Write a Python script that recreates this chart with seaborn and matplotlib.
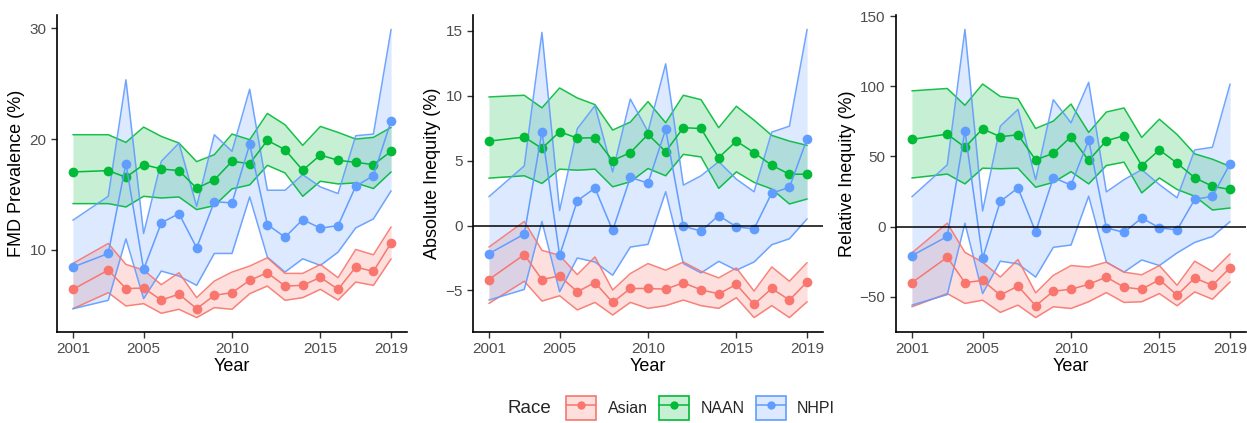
import seaborn as sns
import numpy as np
import pandas as pd
import matplotlib
matplotlib.use("Agg")
from matplotlib import pyplot as plt
from matplotlib.patches import Patch
from matplotlib.lines import Line2D

years = [2001, 2003, 2004, 2005, 2006, 2007, 2008, 2009, 2010,
         2011, 2012, 2013, 2014, 2015, 2016, 2017, 2018, 2019]
races = ["Asian", "NAAN", "NHPI"]
colors = {"Asian": "#F8766D", "NAAN": "#00BA38", "NHPI": "#619CFF"}

# FMD prevalence (%)
prev_asian = [6.43, 8.17, 6.5, 6.55, 5.46, 6.0, 4.68, 5.89, 6.13, 7.24, 7.93, 6.73, 6.79, 7.51, 6.43, 8.44, 8.05, 10.63]
prev_asian_hi = [8.77, 10.57, 8.68, 8.17, 6.85, 7.93, 5.68, 7.18, 7.99, 8.53, 9.28, 7.87, 7.87, 8.68, 7.48, 10.03, 9.55, 12.07]
prev_asian_lo = [4.68, 6.13, 4.93, 5.14, 4.27, 4.63, 3.88, 4.78, 4.63, 6.04, 6.73, 5.44, 5.68, 6.43, 5.46, 7.09, 6.79, 9.19]
prev_naan = [17.03, 17.15, 16.55, 17.69, 17.3, 17.15, 15.56, 16.31, 17.99, 17.78, 19.88, 19.04, 17.18, 18.56, 18.08, 17.9, 17.69, 18.89]
prev_naan_hi = [20.39, 20.39, 19.7, 21.08, 20.24, 19.64, 17.96, 18.59, 20.45, 19.94, 22.31, 21.29, 19.43, 21.14, 20.6, 20.0, 20.15, 21.05]
prev_naan_lo = [14.17, 14.17, 13.87, 14.83, 14.68, 14.77, 13.63, 13.99, 15.5, 15.86, 17.63, 16.94, 14.83, 16.19, 15.95, 16.04, 15.53, 17.03]
prev_nhpi = [8.44, 9.67, 17.78, 8.23, 12.43, 13.27, 10.18, 14.35, 14.23, 19.52, 12.28, 11.14, 12.73, 11.95, 12.19, 15.74, 16.7, 21.65]
prev_nhpi_hi = [12.67, 14.83, 25.35, 11.47, 17.99, 19.64, 13.93, 20.39, 18.89, 24.5, 15.38, 15.38, 16.79, 15.68, 15.08, 20.3, 20.45, 29.9]
prev_nhpi_lo = [4.68, 5.44, 10.99, 5.59, 8.08, 7.63, 6.79, 9.67, 9.67, 14.77, 9.34, 7.99, 9.19, 8.59, 9.79, 11.98, 12.79, 15.32]

# Absolute inequity (%)
abs_asian = [-4.16, -2.24, -4.16, -3.88, -5.1, -4.39, -5.92, -4.85, -4.85, -4.9, -4.41, -4.95, -5.26, -4.54, -6.07, -4.85, -5.74, -4.34]
abs_asian_hi = [-1.66, 0.31, -1.91, -2.3, -3.78, -2.42, -4.97, -3.7, -2.93, -3.44, -2.81, -3.52, -4.03, -3.27, -5.05, -3.19, -4.29, -2.86]
abs_asian_lo = [-6.0, -4.29, -5.82, -5.41, -6.5, -5.92, -6.89, -5.92, -6.38, -6.17, -5.74, -6.17, -6.38, -5.56, -7.09, -6.17, -7.09, -5.87]
abs_naan = [6.5, 6.81, 5.94, 7.22, 6.73, 6.76, 5.0, 5.61, 7.02, 5.69, 7.53, 7.47, 5.23, 6.5, 5.61, 4.64, 3.95, 3.95]
abs_naan_hi = [9.9, 10.03, 9.06, 10.59, 9.82, 9.31, 7.35, 7.96, 9.54, 7.91, 10.03, 9.69, 7.53, 9.18, 8.11, 6.94, 6.5, 6.17]
abs_naan_lo = [3.65, 3.83, 3.24, 4.34, 4.26, 4.34, 2.98, 3.37, 4.39, 3.83, 5.48, 5.28, 2.86, 4.13, 3.32, 2.81, 1.66, 2.04]
abs_nhpi = [-2.17, -0.66, 7.22, -2.3, 1.91, 2.88, -0.38, 3.7, 3.27, 7.4, -0.05, -0.43, 0.77, -0.1, -0.26, 2.5, 2.93, 6.68]
abs_nhpi_hi = [2.22, 4.59, 14.87, 1.15, 7.45, 9.23, 4.13, 9.74, 7.22, 12.45, 3.11, 3.83, 4.92, 3.57, 2.6, 7.19, 7.65, 15.1]
abs_nhpi_lo = [-5.74, -4.92, 0.31, -5.1, -2.5, -2.81, -3.83, -1.66, -1.45, 2.6, -2.93, -3.65, -2.76, -3.44, -2.81, -1.48, -1.02, 0.51]

# Relative inequity (%)
rel_asian = [-40, -21.9, -40, -38.4, -48.9, -42.4, -56.5, -46.1, -44.7, -41.2, -36, -43.3, -44.7, -37.9, -48.9, -36.7, -41.9, -29.4]
rel_asian_hi = [-18.8, 2.4, -18.4, -25.4, -36, -23.5, -47.3, -34.8, -27.8, -28.9, -25.4, -32.5, -34.4, -27.8, -41.9, -24.7, -32, -19.5]
rel_asian_lo = [-57.2, -47.8, -54.8, -52.5, -61.2, -56, -64.9, -57.2, -58.4, -53.6, -47.1, -54.1, -53.6, -47.8, -56.5, -46.6, -51.8, -39.5]
rel_naan = [62.1, 65.9, 56.5, 69.6, 64, 65.4, 47.5, 52.2, 64, 47.1, 61.2, 64.7, 43.5, 54.6, 45.2, 34.8, 28.7, 26.4]
rel_naan_hi = [96.7, 98.4, 86.4, 101.6, 92.7, 91.1, 69.9, 75.1, 87.3, 67.1, 81.6, 84.5, 63.5, 76.5, 65.6, 51.8, 48, 42.8]
rel_naan_lo = [34.6, 37.4, 30.4, 41.6, 41.2, 41.6, 28, 31.5, 39.1, 30.4, 43.5, 45.9, 24, 34.6, 26.4, 21.6, 11.8, 13.2]
rel_nhpi = [-20.7, -7.1, 68.2, -22.6, 17.9, 27.5, -3.8, 34.8, 29.6, 61.6, -0.9, -4.2, 6.1, -0.9, -2.4, 19.3, 21.6, 44.7]
rel_nhpi_hi = [21.2, 44, 140.5, 11.1, 71.5, 83.5, 33.4, 90.4, 73.9, 102.8, 24.7, 33.4, 40.5, 29.9, 20.5, 54.6, 56.5, 101.6]
rel_nhpi_lo = [-56, -48.5, 2.4, -47.8, -24.7, -26.6, -36, -14.8, -13.2, 21.6, -25.4, -32.5, -23.8, -27.8, -18.8, -11.3, -7.1, 3.5]


def make_df(est, lo, hi):
    rows = []
    for race, e, l, h in zip(races, est, lo, hi):
        for y, a, b, c in zip(years, e, l, h):
            rows.append({"Year": y, "Race": race, "est": a, "lo": b, "hi": c})
    return pd.DataFrame(rows)


panels = [
    ("FMD Prevalence (%)", make_df([prev_asian, prev_naan, prev_nhpi],
                                   [prev_asian_lo, prev_naan_lo, prev_nhpi_lo],
                                   [prev_asian_hi, prev_naan_hi, prev_nhpi_hi]),
     [10, 20, 30], False),
    ("Absolute Inequity (%)", make_df([abs_asian, abs_naan, abs_nhpi],
                                      [abs_asian_lo, abs_naan_lo, abs_nhpi_lo],
                                      [abs_asian_hi, abs_naan_hi, abs_nhpi_hi]),
     [-5, 0, 5, 10, 15], True),
    ("Relative Inequity (%)", make_df([rel_asian, rel_naan, rel_nhpi],
                                      [rel_asian_lo, rel_naan_lo, rel_nhpi_lo],
                                      [rel_asian_hi, rel_naan_hi, rel_nhpi_hi]),
     [-50, 0, 50, 100, 150], True),
]

sns.set_theme(style="ticks")
plt.rcParams["font.family"] = ["Liberation Sans", "DejaVu Sans"]

fig = plt.figure(figsize=(12.47, 4.23), dpi=100)
lefts = [57 / 1247, 473 / 1247, 896 / 1247]
width = 350 / 1247
bottom = 1 - 332 / 423
height = (332 - 15) / 423

for (ylabel, df, yticks, zero), left in zip(panels, lefts):
    ax = fig.add_axes([left, bottom, width, height])
    for race in races:
        d = df[df.Race == race]
        ax.fill_between(d.Year, d.lo, d.hi, color=colors[race], alpha=0.22, linewidth=0)
    sns.lineplot(data=df, x="Year", y="lo", hue="Race", palette=colors, ax=ax,
                 legend=False, linewidth=1.1, alpha=0.9)
    sns.lineplot(data=df, x="Year", y="hi", hue="Race", palette=colors, ax=ax,
                 legend=False, linewidth=1.1, alpha=0.9)
    sns.lineplot(data=df, x="Year", y="est", hue="Race", palette=colors, ax=ax,
                 legend=False, linewidth=1.1, marker="o", markersize=7,
                 markeredgewidth=0)
    if zero:
        ax.axhline(0, color="black", linewidth=1.1)
    lo_all = df[["lo", "est"]].min().min()
    hi_all = df[["hi", "est"]].max().max()
    pad = (hi_all - lo_all) * 0.05
    ax.set_ylim(lo_all - pad, hi_all + pad)
    ax.set_xlim(2001 - 0.9, 2019 + 0.9)
    ax.set_xticks([2001, 2005, 2010, 2015, 2019])
    ax.set_yticks(yticks)
    ax.set_xlabel("Year", fontsize=13, color="black", labelpad=1)
    ax.set_ylabel(ylabel, fontsize=13, color="black", labelpad=3)
    ax.tick_params(labelsize=11, labelcolor="#4D4D4D", length=4, width=1, color="#333333")
    for s in ["left", "bottom"]:
        ax.spines[s].set_linewidth(1.2)
        ax.spines[s].set_color("black")
    sns.despine(ax=ax)

handles = []
for race in races:
    p = Patch(facecolor=colors[race] + "38", edgecolor=colors[race], linewidth=1.2)
    l = Line2D([], [], color=colors[race], marker="o", markersize=6, linewidth=1.1, markeredgewidth=0)
    handles.append((p, l))

fig.text(529 / 1247, 0.035, "Race", fontsize=13.5, ha="center", va="center")
fig.legend(handles, races, loc="center left", bbox_to_anchor=(0.445, 0.035), ncol=3,
           frameon=False, fontsize=11.5, handlelength=1.9, handleheight=1.9,
           columnspacing=0.7, handletextpad=0.7, borderpad=0.2)

fig.savefig("out.png", dpi=100)
